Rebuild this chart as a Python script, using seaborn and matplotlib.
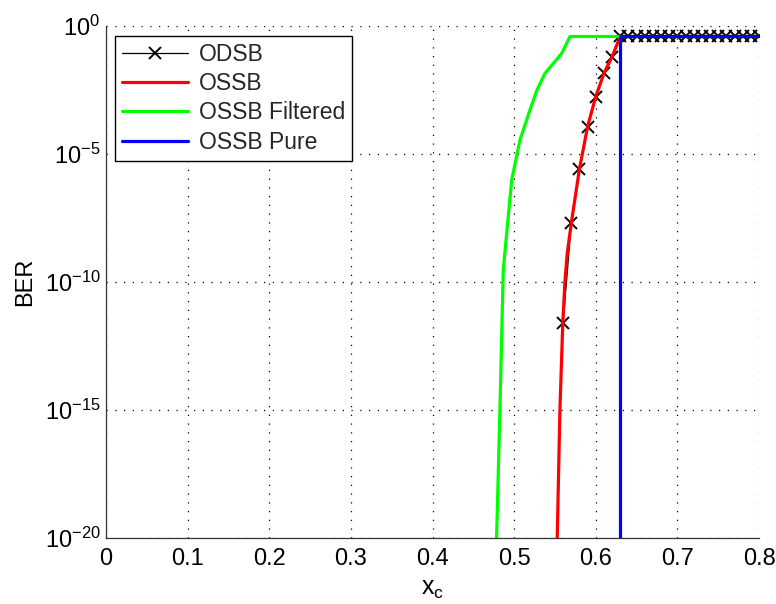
import numpy as np
import pandas as pd
import matplotlib
matplotlib.use("Agg")
import matplotlib.pyplot as plt
import seaborn as sns
from matplotlib.ticker import FixedLocator, NullLocator

# ---- data ----
odsb_x = [0.56, 0.57, 0.58, 0.59, 0.60, 0.61, 0.62, 0.63, 0.64, 0.65, 0.66, 0.67, 0.68,
          0.69, 0.70, 0.71, 0.72, 0.73, 0.74, 0.75, 0.76, 0.77, 0.78, 0.79, 0.80]
odsb_log = [-11.61, -7.71, -5.59, -3.93, -2.76, -1.85, -1.20] + [-0.41] * 18

ossb_x = [0.5528, 0.5561, 0.5596, 0.5622, 0.565, 0.57, 0.58, 0.59, 0.60, 0.61, 0.62, 0.63, 0.80]
ossb_log = [-20.0, -15.0, -11.61, -10.0, -8.9, -7.71, -5.59, -3.93, -2.76, -1.85, -1.20, -0.41, -0.41]

filt_x = [0.4785, 0.4826, 0.4867, 0.497, 0.5072, 0.5194, 0.528, 0.5378, 0.5583, 0.5685, 0.63, 0.80]
filt_log = [-20.0, -15.0, -9.53, -6.02, -4.45, -3.28, -2.5, -1.85, -1.07, -0.41, -0.41, -0.41]

pure_x = [0.63, 0.63, 0.80]
pure_log = [-25.0, -0.41, -0.41]

series_names = ["ODSB", "OSSB", "OSSB Filtered", "OSSB Pure"]
xticks = [0, 0.1, 0.2, 0.3, 0.4, 0.5, 0.6, 0.7, 0.8]
xticklabels = ["0", "0.1", "0.2", "0.3", "0.4", "0.5", "0.6", "0.7", "0.8"]
yticks = [1e-20, 1e-15, 1e-10, 1e-5, 1e0]
yticklabels = [r"$10^{-20}$", r"$10^{-15}$", r"$10^{-10}$", r"$10^{-5}$", r"$10^{0}$"]

sns.set_theme(style="white")
plt.rcParams["font.family"] = ["Liberation Sans", "DejaVu Sans"]
plt.rcParams["mathtext.fontset"] = "custom"
plt.rcParams["mathtext.rm"] = "Liberation Sans"
plt.rcParams["mathtext.it"] = "Liberation Sans"
plt.rcParams["mathtext.default"] = "regular"

fig = plt.figure(figsize=(7.76, 6.04), dpi=100)
ax = fig.add_axes([106 / 776, 1 - 538 / 604, (759 - 106) / 776, (538 - 26) / 604])

def df(x, lg):
    return pd.DataFrame({"x": x, "y": 10.0 ** np.array(lg)})

sns.lineplot(data=df(odsb_x, odsb_log), x="x", y="y", ax=ax, color="black", lw=0.9,
             marker="x", markersize=8, markeredgewidth=1.4, markeredgecolor="black",
             estimator=None, sort=False, label=series_names[0])
sns.lineplot(data=df(ossb_x, ossb_log), x="x", y="y", ax=ax, color="#ff0000", lw=2.3,
             estimator=None, sort=False, label=series_names[1])
sns.lineplot(data=df(filt_x, filt_log), x="x", y="y", ax=ax, color="#00ff00", lw=2.3,
             estimator=None, sort=False, label=series_names[2])
sns.lineplot(data=df(pure_x, pure_log), x="x", y="y", ax=ax, color="#0000ff", lw=2.3,
             estimator=None, sort=False, label=series_names[3])

ax.set_yscale("log")
ax.set_xlim(0, 0.8)
ax.set_ylim(1e-20, 1e0)
ax.xaxis.set_major_locator(FixedLocator(xticks))
ax.yaxis.set_major_locator(FixedLocator(yticks))
ax.yaxis.set_minor_locator(NullLocator())
ax.set_xticklabels(xticklabels)
ax.set_yticklabels(yticklabels)
ax.tick_params(axis="both", which="major", direction="in", length=4, width=0.8,
               labelsize=17, colors="black")
ax.tick_params(axis="x", pad=7)
ax.tick_params(axis="y", pad=4)

ax.grid(True, which="major", color="black", linestyle=(0, (1, 6)), linewidth=0.9)
for s in ["top", "right"]:
    ax.spines[s].set_visible(False)
for s in ["left", "bottom"]:
    ax.spines[s].set_color("#333333")
    ax.spines[s].set_linewidth(0.9)

ax.set_xlabel(r"$\mathregular{x_c}$", fontsize=18, labelpad=5, color="black")
ax.set_ylabel("BER", fontsize=17, labelpad=6, color="black")

leg = ax.legend(loc="upper left", bbox_to_anchor=(0.014, 0.98), fontsize=16.5,
                frameon=True, fancybox=False, edgecolor="black", framealpha=1,
                handlelength=2.9, handletextpad=0.45, borderpad=0.3, labelspacing=0.27,
                borderaxespad=0)
leg.get_frame().set_linewidth(1.0)

fig.savefig("out.png", dpi=100, facecolor="white")
